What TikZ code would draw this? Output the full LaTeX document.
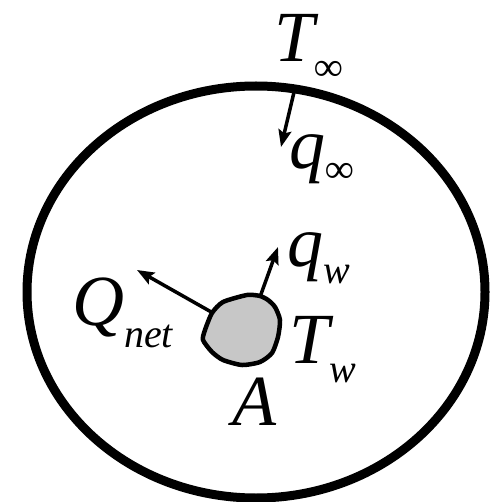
\documentclass[tikz,border=0pt]{standalone}
\usepackage{fontspec}
\setmainfont{Liberation Serif}
\usetikzlibrary{arrows.meta}
\newcommand{\bigfs}{\fontsize{72}{72}\selectfont\itshape}
\newcommand{\subx}[2]{\raisebox{-#1pt}{\fontsize{40}{40}\selectfont #2}}
\tikzset{
  lbl/.style={inner sep=0pt, anchor=base west, font=\bigfs},
  flux/.style={line width=3.5pt, -{Stealth[length=17pt,width=13pt,inset=3pt]}},
  wall/.style={line width=9pt},
  body/.style={line width=4.5pt, fill=black!22, line join=round}
}
\begin{document}
\begin{tikzpicture}[x=1pt,y=-1pt]
\useasboundingbox (0,0) rectangle (489,502);
% enclosure
\draw[wall] (256,292) ellipse [x radius=229, y radius=206];
% body
\draw[body] plot[smooth cycle, tension=0.4] coordinates {(212,313) (223,302) (247,295) (260,296) (268,300) (275,307) (280,320) (278,337) (272,353) (260,362) (242,365) (223,360) (212,352) (203,340) (205,330)};
\coordinate (qinfs) at (295,88);
\coordinate (qinft) at (281,147);
\coordinate (qws) at (260,297);
\coordinate (qwt) at (278,247);
\coordinate (Qs) at (213,313);
\coordinate (Qt) at (137,270);
\draw[flux] (qinfs) -- (qinft);
\draw[flux] (qws) -- (qwt);
\draw[flux] (Qs) -- (Qt);
% labels
\node[lbl] (Tinf) at (274,62) {T\subx{19}{∞}};
\node[lbl] (qinf) at (289,169) {q\subx{14}{∞}};
\node[lbl] (qw) at (287,266) {q\subx{17}{w}};
\node[lbl] (Tw) at (289,363) {T\subx{19}{w}};
\node[lbl] (Qnet) at (72,325) {Q\subx{22}{net}};
\node[lbl, anchor=base] (A) at (254,425) {A};
\end{tikzpicture}
\end{document}
